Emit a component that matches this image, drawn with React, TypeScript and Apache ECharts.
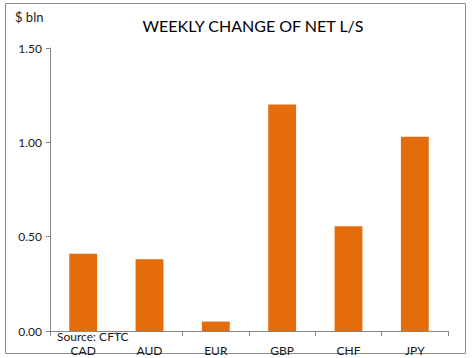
import React, { useEffect, useRef } from "react";
import * as echarts from "echarts";

const categories = ["CAD", "AUD", "EUR", "GBP", "CHF", "JPY"];
const values = [0.41, 0.38, 0.05, 1.2, 0.555, 1.03];
const yTicks = [0, 0.5, 1.0, 1.5];
const titleText = "WEEKLY CHANGE OF NET L/S";
const unitText = "$ bln";
const sourceText = "Source: CFTC";

export default function App() {
  const ref = useRef<HTMLDivElement>(null);
  useEffect(() => {
    const chart = echarts.init(ref.current!, null, { renderer: "svg" });
    const font = "Lato, 'Open Sans', sans-serif";
    chart.setOption({
      animation: false,
      backgroundColor: "#ffffff",
      textStyle: { fontFamily: font },
      grid: { left: 50, right: 24, top: 48, bottom: 27 },
      xAxis: {
        type: "category",
        data: categories,
        axisLine: { lineStyle: { color: "#868686", width: 1 } },
        axisTick: { show: true, length: 5, alignWithLabel: false, lineStyle: { color: "#868686" } },
        axisLabel: { color: "#1a1a1a", fontSize: 12, margin: 13, lineHeight: 12, fontFamily: font },
      },
      yAxis: {
        type: "value",
        min: yTicks[0],
        max: yTicks[yTicks.length - 1],
        interval: 0.5,
        axisLine: { show: true, lineStyle: { color: "#868686", width: 1 } },
        axisTick: { show: true, length: 4, lineStyle: { color: "#868686" } },
        splitLine: { show: false },
        axisLabel: {
          color: "#1a1a1a",
          fontSize: 12,
          margin: 8,
          fontFamily: font,
          formatter: (v: number) => v.toFixed(2),
        },
      },
      series: [
        {
          type: "bar",
          data: values,
          barWidth: "42%",
          itemStyle: { color: "#E46C0A" },
        },
      ],
      graphic: [
        {
          type: "rect",
          shape: { x: 5.5, y: 3.5, width: 460, height: 350 },
          style: { fill: "none", stroke: "#8c8c8c", lineWidth: 1 },
          silent: true,
        },
        {
          type: "text",
          x: 253,
          y: 25,
          style: {
            text: titleText,
            fontSize: 16,
            fontFamily: font,
            fill: "#000000",
            textAlign: "center",
            textVerticalAlign: "middle",
          },
        },
        {
          type: "text",
          x: 15,
          y: 17,
          style: {
            text: unitText,
            fontSize: 13,
            fontFamily: font,
            fill: "#1a1a1a",
            textAlign: "left",
            textVerticalAlign: "middle",
          },
        },
        {
          type: "text",
          x: 57,
          y: 336,
          style: {
            text: sourceText,
            fontSize: 12,
            lineHeight: 12,
            fontFamily: font,
            fill: "#1a1a1a",
            textAlign: "left",
            textVerticalAlign: "middle",
          },
        },
      ],
    });
    return () => chart.dispose();
  }, []);
  return (
    <div
      ref={ref}
      style={{ position: "fixed", left: 0, top: 0, width: 472, height: 358, background: "#fff" }}
    />
  );
}
